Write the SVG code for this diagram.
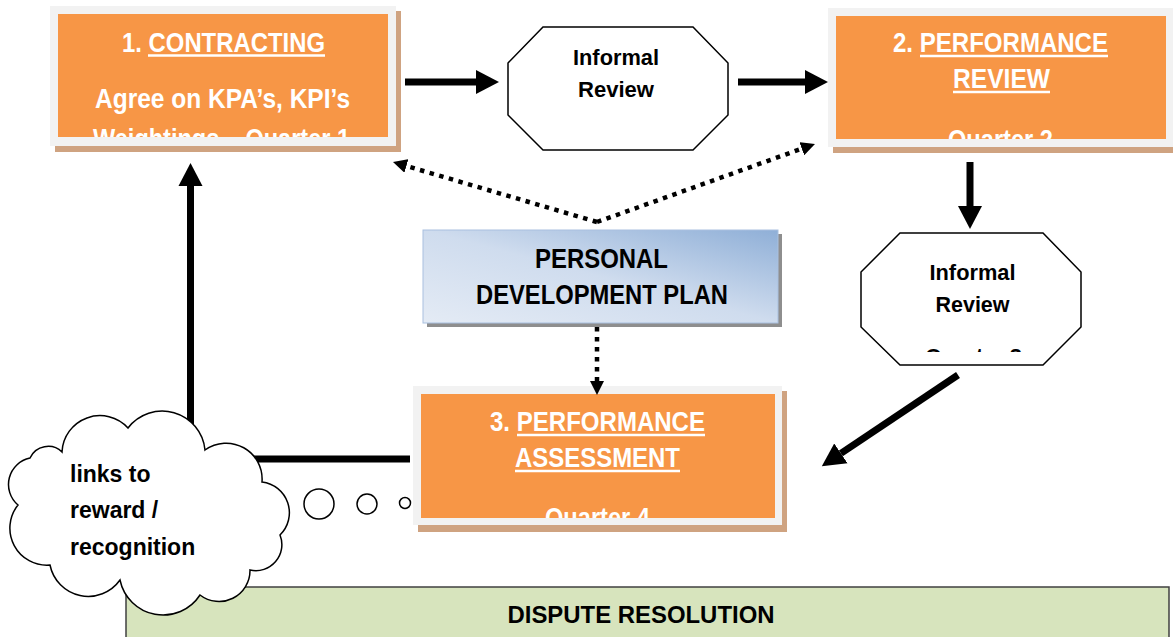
<svg xmlns="http://www.w3.org/2000/svg" width="1173" height="637" viewBox="0 0 1173 637">
<style>
.frame{fill:#f2f2f2}
.shadow{fill:#cfa381}
.orange{fill:#f79646}
.title{font-family:"Liberation Sans",Arial,sans-serif;font-weight:bold;font-size:28px;fill:#fff;text-anchor:middle}
.uline{stroke:#fff;stroke-width:2.5}
.oct{fill:#fff;stroke:#000;stroke-width:1.5}
.otext{font-family:"Liberation Sans",Arial,sans-serif;font-weight:bold;font-size:22px;fill:#000;text-anchor:middle}
.ptext{font-family:"Liberation Sans",Arial,sans-serif;font-weight:bold;font-size:27px;fill:#000;text-anchor:middle}
.ctext{font-family:"Liberation Sans",Arial,sans-serif;font-weight:bold;font-size:23px;fill:#000}
.thick{stroke:#000;stroke-width:7;fill:none}
.dot{stroke:#000;stroke-width:4.5;stroke-dasharray:4.5 5.5;fill:none}
.cloud{fill:#fff;stroke:#000;stroke-width:1.5}
</style>
<defs>
<marker id="headThick" markerUnits="userSpaceOnUse" markerWidth="24" markerHeight="26" refX="0" refY="12" orient="auto" viewBox="0 0 24 24">
<path d="M0,0 L23,12 L0,24 z" fill="#000"/>
</marker>
<marker id="headDot" markerUnits="userSpaceOnUse" markerWidth="15" markerHeight="14" refX="0" refY="7" orient="auto" viewBox="0 0 15 14">
<path d="M0,0 L14,7 L0,14 z" fill="#000"/>
</marker>
<linearGradient id="pdpGrad" x1="0" y1="1" x2="1" y2="0">
<stop offset="0" stop-color="#e4ebf5"/>
<stop offset="0.5" stop-color="#cfdcee"/>
<stop offset="1" stop-color="#8fafd7"/>
</linearGradient>
<clipPath id="clip1"><rect x="58" y="14" width="330" height="123"/></clipPath>
<clipPath id="clip2"><rect x="836" y="16" width="330" height="123"/></clipPath>
<clipPath id="clip3"><rect x="421" y="394" width="354" height="124"/></clipPath>
<clipPath id="clip4"><rect x="861" y="233" width="220" height="119"/></clipPath>
</defs>

<g id="dispute-resolution">
<rect x="126" y="587" width="1043" height="60" fill="#d7e4bd" stroke="#404040" stroke-width="1.5"/>
<text x="641" y="623" font-family="'Liberation Sans',Arial,sans-serif" font-weight="bold" font-size="24" text-anchor="middle" textLength="267" lengthAdjust="spacingAndGlyphs">DISPUTE RESOLUTION</text>
</g>

<g id="node-contracting">
<rect class="shadow" x="55" y="11" width="346" height="141"/>
<rect class="frame" x="50" y="6" width="346" height="140"/>
<rect class="orange" x="58" y="14" width="330" height="123"/>
<text class="title" x="223.5" y="52" textLength="203" lengthAdjust="spacingAndGlyphs">1. CONTRACTING</text>
<line class="uline" x1="148" y1="55.5" x2="325" y2="55.5"/>
<text class="title" x="222.5" y="108" textLength="255" lengthAdjust="spacingAndGlyphs">Agree on KPA’s, KPI’s</text>
<text class="title" x="221.5" y="148" textLength="257" lengthAdjust="spacingAndGlyphs" clip-path="url(#clip1)">Weightings – Quarter 1</text>
</g>

<g id="node-informal-review-1">
<polygon class="oct" points="543,27 693,27 728,63 728,115 693,150 543,150 508,115 508,63"/>
<text class="otext" x="616" y="65" textLength="86" lengthAdjust="spacingAndGlyphs">Informal</text>
<text class="otext" x="616" y="97" textLength="76" lengthAdjust="spacingAndGlyphs">Review</text>
</g>

<g id="node-performance-review">
<rect class="shadow" x="833" y="13" width="346" height="140"/>
<rect class="frame" x="828" y="8" width="346" height="139"/>
<rect class="orange" x="836" y="16" width="330" height="123"/>
<text class="title" x="1000.5" y="52" textLength="215" lengthAdjust="spacingAndGlyphs">2. PERFORMANCE</text>
<line class="uline" x1="920" y1="56" x2="1108" y2="56"/>
<text class="title" x="1001.5" y="88" textLength="97" lengthAdjust="spacingAndGlyphs">REVIEW</text>
<line class="uline" x1="953" y1="92" x2="1050" y2="92"/>
<text class="title" x="1000.5" y="149" textLength="105" lengthAdjust="spacingAndGlyphs" clip-path="url(#clip2)">Quarter 2</text>
</g>

<g id="node-informal-review-2">
<polygon class="oct" points="900,233 1043,233 1081,272 1081,327 1043,365 900,365 861,327 861,272"/>
<text class="otext" x="972.5" y="280" textLength="86" lengthAdjust="spacingAndGlyphs">Informal</text>
<text class="otext" x="972.5" y="312" textLength="74" lengthAdjust="spacingAndGlyphs">Review</text>
<text class="otext" x="973.5" y="364" textLength="97" lengthAdjust="spacingAndGlyphs" clip-path="url(#clip4)">Quarter 3</text>
</g>

<g id="node-personal-development-plan">
<rect x="427" y="234" width="355" height="93" fill="#8e8e8e"/>
<rect x="423" y="230" width="355" height="93" fill="url(#pdpGrad)" stroke="#a9c0df" stroke-width="1"/>
<text class="ptext" x="601.5" y="268" textLength="133" lengthAdjust="spacingAndGlyphs">PERSONAL</text>
<text class="ptext" x="602" y="304" textLength="252" lengthAdjust="spacingAndGlyphs">DEVELOPMENT PLAN</text>
</g>

<g id="node-performance-assessment">
<rect class="shadow" x="418" y="391" width="369" height="141"/>
<rect class="frame" x="413" y="386" width="369" height="139"/>
<rect class="orange" x="421" y="394" width="354" height="124"/>
<text class="title" x="597.5" y="431" textLength="215" lengthAdjust="spacingAndGlyphs">3. PERFORMANCE</text>
<line class="uline" x1="517" y1="435" x2="705" y2="435"/>
<text class="title" x="597.5" y="467" textLength="165" lengthAdjust="spacingAndGlyphs">ASSESSMENT</text>
<line class="uline" x1="515" y1="471" x2="680" y2="471"/>
<text class="title" x="597.5" y="527" textLength="105" lengthAdjust="spacingAndGlyphs" clip-path="url(#clip3)">Quarter 4</text>
</g>

<g id="connectors">
<line class="thick" x1="405" y1="82" x2="476" y2="82" marker-end="url(#headThick)"/>
<line class="thick" x1="738" y1="82" x2="805" y2="82" marker-end="url(#headThick)"/>
<line class="thick" x1="970" y1="162" x2="970" y2="206" marker-end="url(#headThick)"/>
<line class="thick" x1="958" y1="375" x2="840.9" y2="453.4" marker-end="url(#headThick)"/>
<polyline class="thick" points="410,459 190.5,459 190.5,186" marker-end="url(#headThick)"/>
<line class="dot" x1="597" y1="222" x2="406.4" y2="166" marker-end="url(#headDot)"/>
<line class="dot" x1="597" y1="222" x2="801.8" y2="148.7" marker-end="url(#headDot)"/>
<line class="dot" x1="597" y1="327" x2="597" y2="381" marker-end="url(#headDot)"/>
</g>

<g id="node-links-to-reward">
<path class="cloud" d="M62,452 A38,38 0 0 1 128,428 A43,43 0 0 1 205,450 A36,36 0 0 1 262,482 A31,31 0 0 1 280,535 A26,26 0 0 1 250,570 A31,31 0 0 1 200,595 A44,44 0 0 1 120,580 A39,39 0 0 1 50,565 A37,37 0 0 1 18,505 A27,27 0 0 1 30,458 A20,20 0 0 1 62,452 z"/>
<circle class="cloud" cx="319" cy="504" r="15"/>
<circle class="cloud" cx="367" cy="504" r="10"/>
<circle class="cloud" cx="405" cy="503" r="5.5"/>
<text class="ctext" x="70" y="482">links to</text>
<text class="ctext" x="70" y="518">reward /</text>
<text class="ctext" x="70" y="555">recognition</text>
</g>
</svg>
